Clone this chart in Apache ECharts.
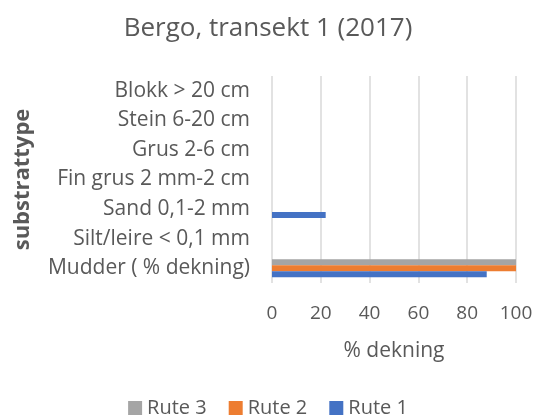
<!DOCTYPE html>
<html><head><meta charset="utf-8">
<script src="https://cdn.jsdelivr.net/npm/echarts@6/dist/echarts.min.js"></script>
<style>html,body{margin:0;padding:0;background:#fff}#c{width:536px;height:420px}</style>
</head><body><div id="c"></div>
<script>
const categories = ["Mudder ( % dekning)", "Silt/leire < 0,1 mm", "Sand 0,1-2 mm", "Fin grus 2 mm-2 cm", "Grus 2-6 cm", "Stein 6-20 cm", "Blokk > 20 cm"];
const rute1 = [88, 0, 22, 0, 0, 0, 0];
const rute2 = [100, 0, 0, 0, 0, 0, 0];
const rute3 = [100, 0, 0, 0, 0, 0, 0];
const xTicks = [0, 20, 40, 60, 80, 100];

const font = "'Open Sans', 'Noto Sans', sans-serif";
const txt = '#595959';
const chart = echarts.init(document.getElementById('c'), null, {renderer: 'canvas'});
chart.setOption({
  animation: false,
  title: {text: 'Bergo, transekt 1 (2017)', left: 'center', top: 11,
    textStyle: {fontFamily: font, fontSize: 26, fontWeight: 'normal', color: txt}},
  legend: {top: 393, left: 'center', itemWidth: 14, itemHeight: 14, itemGap: 22, icon: 'rect',
    data: ['Rute 3', 'Rute 2', 'Rute 1'],
    textStyle: {fontFamily: font, fontSize: 20, color: txt}},
  grid: {left: 272, right: 20, top: 76, bottom: 137},
  xAxis: {type: 'value', min: xTicks[0], max: xTicks[xTicks.length-1], interval: 20,
    name: '% dekning', nameLocation: 'middle', nameGap: 58,
    nameTextStyle: {fontFamily: font, fontSize: 21, color: txt},
    axisLabel: {fontFamily: font, fontSize: 19, color: txt, margin: 21},
    axisLine: {show: false}, axisTick: {show: false},
    splitLine: {lineStyle: {color: '#d9d9d9', width: 1.5}}},
  yAxis: {type: 'category', data: categories,
    name: 'substrattype', nameLocation: 'middle', nameGap: 238, nameRotate: 90,
    nameTextStyle: {fontFamily: font, fontSize: 22, fontWeight: 'bold', color: txt},
    axisLabel: {fontFamily: font, fontSize: 21, color: txt, margin: 22},
    axisLine: {show: false}, axisTick: {show: false}},
  series: [
    {name: 'Rute 3', type: 'bar', data: rute3, itemStyle: {color: '#A5A5A5'}, barCategoryGap: '39%', barGap: '0%'},
    {name: 'Rute 2', type: 'bar', data: rute2, itemStyle: {color: '#ED7D31'}, barCategoryGap: '39%', barGap: '0%'},
    {name: 'Rute 1', type: 'bar', data: rute1, itemStyle: {color: '#4472C4'}, barCategoryGap: '39%', barGap: '0%'}
  ]
});
</script></body></html>
